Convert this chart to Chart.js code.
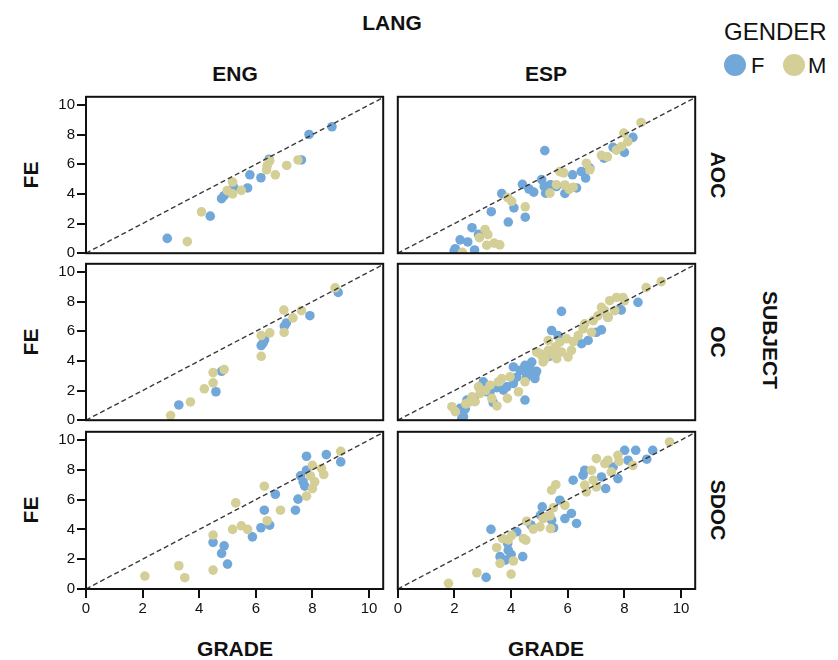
<!DOCTYPE html>
<html><head><meta charset="utf-8">
<script src="https://cdn.jsdelivr.net/npm/chart.js@4.4.1/dist/chart.umd.min.js"></script>
<style>
html,body{margin:0;padding:0;background:#fff;width:838px;height:660px;overflow:hidden;font-family:"Liberation Sans",Arial,Helvetica,sans-serif;}
canvas{position:absolute;}
.t{position:absolute;font-weight:bold;color:#111;white-space:nowrap;transform:translate(-50%,-50%);font-size:21px;line-height:1;}
.rl{transform:translate(-50%,-50%) rotate(-90deg);}
.rr{transform:translate(-50%,-50%) rotate(90deg);}
.lg{position:absolute;font-size:24px;color:#111;line-height:1;white-space:nowrap;}
.dot{position:absolute;width:22px;height:22px;border-radius:50%;}
</style></head><body>
<div class="t" style="left:392px;top:22px;">LANG</div>
<div class="t" style="left:235px;top:73px;">ENG</div>
<div class="t" style="left:546px;top:73px;">ESP</div>
<div class="t rl" style="left:30px;top:175px;">FE</div>
<div class="t rl" style="left:30px;top:342px;">FE</div>
<div class="t rl" style="left:30px;top:510px;">FE</div>
<div class="t rr" style="left:718px;top:175px;">AOC</div>
<div class="t rr" style="left:718px;top:342px;">OC</div>
<div class="t rr" style="left:718px;top:510px;">SDOC</div>
<div class="t rr" style="left:770px;top:340px;">SUBJECT</div>
<div class="t" style="left:235px;top:648px;">GRADE</div>
<div class="t" style="left:546px;top:648px;">GRADE</div>
<div class="lg" style="left:724px;top:20px;">GENDER</div>
<div class="dot" style="left:724px;top:54px;background:#72a7d9;"></div>
<div class="lg" style="left:751px;top:55px;font-size:22px;">F</div>
<div class="dot" style="left:783px;top:54px;background:#d4ce97;"></div>
<div class="lg" style="left:808px;top:55px;font-size:22px;">M</div>
<script>
// ---- data: [GRADE, FE] pairs ----
const langs = ['ENG', 'ESP'];
const subjects = ['AOC', 'OC', 'SDOC'];
const genders = ['F', 'M'];
const tickValues = [0, 2, 4, 6, 8, 10];
const diagonal = [[0, 0], [10.5, 10.5]];

const eng_aoc_F = [[2.87,1.0],[4.39,2.5],[4.79,3.68],[4.88,3.88],[5.22,4.44],[5.71,4.4],[5.79,5.29],[6.18,5.09],[6.47,6.34],[7.61,6.29],[7.88,8.01],[8.69,8.53]];
const eng_aoc_M = [[3.58,0.78],[4.08,2.79],[4.99,4.22],[5.18,4.8],[5.18,4.0],[5.49,4.24],[6.38,5.63],[6.4,5.9],[6.49,6.23],[6.69,5.29],[7.09,5.92],[7.49,6.29]];

const esp_aoc_F = [[1.99,0.16],[2.2,0.9],[2.47,0.76],[2.62,1.72],[2.71,0.22],[2.85,1.27],[2.03,0.3],[3.3,2.8],[3.67,4.02],[3.9,2.1],[4.1,3.06],[4.4,4.64],[4.5,2.43],[4.63,4.33],[4.8,4.12],[5.08,4.96],[5.19,6.92],[5.17,4.5],[5.22,4.05],[5.39,4.62],[5.6,4.5],[5.9,4.03],[6.17,5.29],[6.31,4.4],[6.48,5.51],[6.63,5.07],[6.78,5.74],[7.28,6.41],[7.6,7.14],[8.0,6.8],[8.3,7.81]];
const esp_aoc_M = [[2.28,0.06],[2.88,1.05],[3.08,1.6],[3.18,1.25],[3.14,0.54],[3.4,0.68],[3.6,0.56],[3.88,3.75],[4.02,3.5],[4.5,3.13],[5.37,4.05],[5.6,4.62],[5.72,5.5],[5.86,5.42],[5.9,4.6],[6.05,4.3],[6.19,4.45],[6.66,6.07],[6.78,5.63],[7.19,6.6],[7.4,6.5],[7.72,6.95],[7.9,7.2],[7.98,8.1],[8.12,7.52],[8.59,8.82]];

const eng_oc_F = [[3.28,1.03],[4.59,1.92],[4.79,3.3],[6.19,5.04],[6.26,5.22],[6.31,5.42],[7.01,6.34],[7.08,6.56],[7.91,7.05],[8.91,8.62]];
const eng_oc_M = [[2.99,0.31],[3.69,1.23],[4.18,2.12],[4.49,2.52],[4.49,3.21],[4.88,3.42],[6.19,4.31],[6.19,5.71],[6.49,5.89],[6.99,7.43],[7.0,5.92],[7.31,6.9],[7.61,7.39],[8.8,8.93]];

const esp_oc_F = [[2.26,0.13],[2.38,0.76],[2.2,0.8],[2.32,0.24],[2.44,1.36],[2.7,1.5],[3.02,2.59],[3.14,1.92],[3.26,1.92],[3.37,1.18],[3.5,2.2],[3.73,2.03],[3.85,2.25],[4.08,2.48],[4.08,3.59],[4.2,2.9],[4.32,3.37],[4.43,3.37],[4.49,3.7],[4.49,1.36],[4.55,2.93],[4.6,3.6],[4.67,3.48],[4.73,3.15],[4.73,3.92],[4.84,2.81],[4.84,3.04],[4.9,3.3],[5.35,4.3],[5.43,6.05],[5.66,5.71],[5.78,7.34],[6.49,5.16],[6.72,5.38],[7.01,5.93],[7.19,6.09],[7.42,6.94],[7.83,7.5],[7.89,7.43],[8.48,7.95]];
const esp_oc_M = [[1.91,0.91],[2.03,0.58],[2.4,1.1],[2.55,1.25],[2.62,1.58],[2.73,1.25],[2.91,1.81],[2.85,2.25],[3.1,2.0],[3.26,2.36],[3.32,1.47],[3.5,0.96],[3.55,2.59],[3.67,2.81],[3.87,1.47],[3.96,2.92],[4.26,1.92],[4.49,2.59],[4.9,4.6],[5.02,4.49],[5.1,4.3],[5.13,3.93],[5.2,4.15],[5.31,4.71],[5.31,5.38],[5.5,4.4],[5.55,4.93],[5.61,4.15],[5.72,5.26],[5.78,4.6],[5.96,5.49],[6.01,4.26],[6.13,4.71],[6.2,5.3],[6.37,5.71],[6.54,6.16],[6.6,6.5],[6.84,5.93],[6.9,6.72],[7.07,7.05],[7.19,7.61],[7.3,7.4],[7.42,6.94],[7.48,8.06],[7.66,7.39],[7.72,8.28],[7.95,8.28],[8.0,8.05],[8.77,8.95],[9.3,9.35]];

const eng_sdoc_F = [[4.49,3.13],[4.79,2.39],[4.88,2.9],[5.0,1.67],[5.88,3.5],[6.18,4.11],[6.3,5.29],[6.49,4.29],[6.69,6.36],[7.4,5.29],[7.49,6.03],[7.58,7.59],[7.67,7.19],[7.73,6.9],[7.79,8.91],[7.79,7.97],[8.49,9.02],[9.0,8.53]];
const eng_sdoc_M = [[2.08,0.87],[3.28,1.56],[3.49,0.76],[4.49,1.27],[4.49,3.62],[5.18,4.0],[5.29,5.78],[5.49,4.24],[5.71,4.0],[6.3,6.9],[6.4,4.58],[6.87,5.29],[7.79,6.23],[7.93,7.59],[8.0,8.3],[8.0,6.74],[8.08,7.19],[8.32,8.08],[8.4,7.68],[9.0,9.24]];

const esp_sdoc_F = [[3.12,0.78],[3.29,4.0],[3.61,2.17],[3.79,1.94],[3.88,3.06],[3.9,2.6],[4.0,2.32],[4.2,3.84],[4.41,2.17],[4.7,4.3],[5.04,4.96],[5.1,5.51],[5.43,4.62],[5.5,4.11],[5.72,5.96],[5.9,4.73],[6.13,5.07],[6.31,4.4],[6.19,7.3],[6.54,7.64],[6.6,7.97],[7.19,7.52],[7.34,6.74],[7.6,8.19],[7.77,7.41],[8.01,9.31],[8.13,8.64],[8.4,9.31],[8.79,8.71],[9.0,9.31]];
const esp_sdoc_M = [[1.79,0.38],[2.79,1.09],[3.49,2.77],[3.61,1.72],[3.7,3.39],[3.9,3.3],[4.0,1.0],[4.02,3.6],[4.08,1.88],[4.43,3.39],[4.52,3.28],[4.55,4.55],[4.78,4.02],[5.02,4.17],[5.13,4.73],[5.2,4.84],[5.37,4.91],[5.39,4.06],[5.49,5.45],[5.43,6.63],[5.58,7.0],[5.9,5.62],[6.6,6.97],[6.66,6.52],[6.84,7.97],[6.9,7.3],[7.01,6.85],[7.01,8.75],[7.31,8.42],[7.42,8.64],[7.54,7.86],[7.77,8.97],[7.81,8.57],[8.3,8.3],[9.59,9.87]];

const panelData = {
  ENG: {AOC: [eng_aoc_F, eng_aoc_M], OC: [eng_oc_F, eng_oc_M], SDOC: [eng_sdoc_F, eng_sdoc_M]},
  ESP: {AOC: [esp_aoc_F, esp_aoc_M], OC: [esp_oc_F, esp_oc_M], SDOC: [esp_sdoc_F, esp_sdoc_M]}
};

// ---- layout / style ----
const genderColors = {F: '#72a7d9', M: '#d4ce97'};
const colL = [86, 397], colR = [384, 696];
const rowT = [96, 263, 431], rowB = [254, 421, 589];
const AX_MAX = 10.5, AY_MAX = 10.55;
const FONT = '"Liberation Sans", Arial, Helvetica, sans-serif';

const framePlugin = {
  id: 'frame',
  afterDatasetsDraw(chart) {
    const {ctx, chartArea: a} = chart;
    ctx.save();
    ctx.strokeStyle = '#111';
    ctx.lineWidth = 2;
    ctx.strokeRect(a.left, a.top, a.right - a.left, a.bottom - a.top);
    ctx.restore();
  }
};

const toXY = arr => arr.map(p => ({x: p[0], y: p[1]}));
function zeroPad(s) { s.paddingTop = 0; s.paddingBottom = 0; s.paddingLeft = 0; s.paddingRight = 0; }

function makePanel(row, col) {
  const lang = langs[col], subj = subjects[row];
  const [dF, dM] = panelData[lang][subj];
  const L = colL[col], R = colR[col], T = rowT[row], B = rowB[row];
  const showY = col === 0, showX = row === 2;
  const yW = 44, xH = 34, pad = 4;
  const left = L - (showY ? yW : pad);
  const top = T - pad;
  const w = (R - L) + pad + (showY ? yW : pad);
  const h = (B - T) + pad + (showX ? xH : pad);
  const cv = document.createElement('canvas');
  cv.width = w; cv.height = h;
  cv.style.left = left + 'px'; cv.style.top = top + 'px';
  cv.style.width = w + 'px'; cv.style.height = h + 'px';
  document.body.appendChild(cv);
  const axisCommon = {
    type: 'linear', min: 0,
    afterBuildTicks: s => { s.ticks = tickValues.map(v => ({value: v})); },
    grid: {display: true, drawOnChartArea: false, drawTicks: true, tickLength: 9, color: '#111', lineWidth: 2},
    border: {display: false},
    ticks: {color: '#111', font: {size: 15, family: FONT}, padding: 2, maxRotation: 0, autoSkip: false}
  };
  new Chart(cv, {
    type: 'scatter',
    data: {
      datasets: [
        {data: toXY(diagonal), showLine: true, borderColor: '#3a3a3a', borderWidth: 1.4, borderDash: [5, 3], pointRadius: 0, pointHoverRadius: 0, fill: false},
        {label: genders[1], data: toXY(dM), backgroundColor: genderColors.M, borderWidth: 0, pointRadius: 4.8, pointHoverRadius: 4.8},
        {label: genders[0], data: toXY(dF), backgroundColor: genderColors.F, borderWidth: 0, pointRadius: 4.8, pointHoverRadius: 4.8}
      ]
    },
    options: {
      responsive: false, animation: false, devicePixelRatio: 1,
      layout: {padding: {left: showY ? 0 : pad, right: pad, top: pad, bottom: showX ? 0 : pad}},
      plugins: {legend: {display: false}, tooltip: {enabled: false}, title: {display: false}},
      scales: {
        x: Object.assign({}, axisCommon, {max: AX_MAX, display: showX, afterFit: s => { s.height = showX ? xH : 0; zeroPad(s); }}),
        y: Object.assign({}, axisCommon, {max: AY_MAX, display: showY, afterFit: s => { s.width = showY ? yW : 0; zeroPad(s); }})
      }
    },
    plugins: [framePlugin]
  });
}

for (let r = 0; r < 3; r++) for (let c = 0; c < 2; c++) makePanel(r, c);
</script>
</body></html>
